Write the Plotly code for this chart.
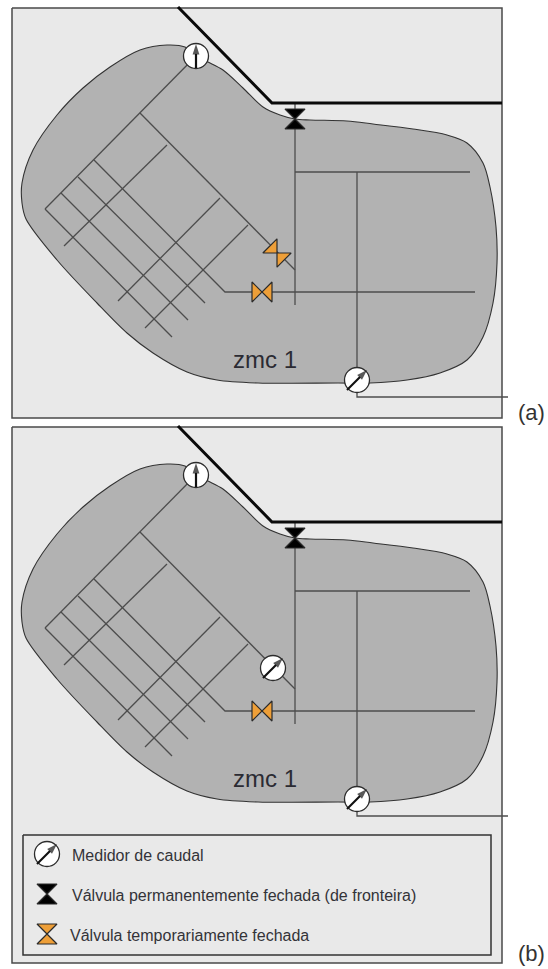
import plotly.graph_objects as go

# All geometry is expressed in the diagram's own coordinate system (origin top-left).
PANEL_B_SHIFT = 419
FRAME_X = [12, 502, 502, 12, 12]
FRAME_A_Y = [8, 8, 418, 418, 8]
FRAME_B_Y = [427, 427, 963, 963, 427]
LEGEND_BOX_X = [23, 491, 491, 23, 23]
LEGEND_BOX_Y = [835, 835, 955, 955, 835]

ROAD_X = [178, 272, 502]
ROAD_Y = [7, 103, 103]

ZONE_X = [196, 185, 167, 140, 110, 83, 57, 33, 22, 22, 26, 57, 97, 127, 153, 187, 217, 258, 338, 370, 407,
          440, 467, 483, 493, 497, 496, 490, 483, 467, 447, 413, 373, 347, 310, 295, 280, 263, 243, 223, 208, 196]
ZONE_Y = [56, 47, 45, 50, 67, 88, 115, 150, 183, 203, 219, 260, 303, 333, 353, 372, 380, 383, 383, 383, 380,
          373, 360, 337, 303, 263, 227, 187, 163, 143, 135, 129, 124, 121, 120, 119, 115, 107, 88, 70, 62, 56]

PIPES = [
    ([196, 140, 45], [56, 113, 209]),
    ([140, 295], [113, 270]),
    ([45, 172], [209, 337]),
    ([61, 188], [193, 320]),
    ([78, 205], [177, 303]),
    ([94, 225, 475], [160, 292, 292]),
    ([64, 167], [246, 145]),
    ([118, 220], [301, 198]),
    ([145, 248], [328, 225]),
    ([295, 295], [103, 305]),
    ([295, 470], [172, 172]),
    ([357, 357, 508], [172, 397, 397]),
]

METERS_X = [196, 357]
METERS_Y = [56, 380]
METER_ARROWS = [([196, 196], [68, 44]), ([347, 367], [390, 370])]
METER_B_X = [273]
METER_B_Y = [249]
METER_B_ARROW = ([263, 283], [259, 239])
LEGEND_METER = (47, 854)
LEGEND_ARROW = ([37, 57], [864, 844])

BOUNDARY_VALVE = (295, 119)
ORANGE_A = [(262, 292, 0), (277, 253, 45)]
ORANGE_B = [(262, 292, 0)]

LEGEND_TEXTS = ["Medidor de caudal", "Válvula permanentemente fechada (de fronteira)", "Válvula temporariamente fechada"]
LEGEND_TEXT_X = [70, 70, 68]
LEGEND_TEXT_Y = [855, 895, 935]
PANEL_LABELS = ["(a)", "(b)"]

FRAME_BG, ZONE_BG, PIPE, DARK, ORANGE = "#e9e9e9", "#b2b2b2", "#4d4d4d", "#3c3c3c", "#ee9f38"
FONT = "Liberation Sans"

fig = go.Figure()


def poly(x, y, fill=None, color=DARK, width=1.5, shape="linear"):
    fig.add_trace(go.Scatter(x=x, y=y, mode="lines", hoverinfo="skip", showlegend=False,
                             fill="toself" if fill else "none", fillcolor=fill,
                             line=dict(color=color, width=width, shape=shape, smoothing=0.9 if shape == "spline" else None)))


def meter(cx, cy, arrow):
    fig.add_trace(go.Scatter(x=[cx], y=[cy], mode="markers", hoverinfo="skip", showlegend=False,
                             marker=dict(symbol="circle", size=25, color="white", line=dict(color="#2c2c2c", width=1.3))))
    fig.add_trace(go.Scatter(x=arrow[0], y=arrow[1], mode="lines+markers", hoverinfo="skip", showlegend=False,
                             line=dict(color="#111", width=2.2),
                             marker=dict(symbol="arrow", size=[0, 11], color="#111", angleref="previous", line=dict(width=0))))


def valve(cx, cy, symbol, color, angle=0, size=20):
    fig.add_trace(go.Scatter(x=[cx], y=[cy], mode="markers", hoverinfo="skip", showlegend=False,
                             marker=dict(symbol=symbol, size=size, color=color, angle=angle,
                                         line=dict(color="#2a2a2a", width=1.2))))


def panel(shift, frame_y, orange, extra_meter):
    sy = lambda ys: [v + shift for v in ys]
    poly(FRAME_X, frame_y, fill=FRAME_BG, color="#4a4a4a", width=1.5)
    poly(ZONE_X, sy(ZONE_Y), fill=ZONE_BG, color="#333333", width=1.1, shape="spline")
    for px, py in PIPES:
        poly(px, sy(py), color=PIPE, width=1.3)
    poly(ROAD_X, sy(ROAD_Y), color="#0a0a0a", width=3)
    valve(BOUNDARY_VALVE[0], BOUNDARY_VALVE[1] + shift, "hourglass", "#000000")
    for cx, cy, ang in orange:
        valve(cx, cy + shift, "bowtie", ORANGE, ang)
    for cx, cy, arrow in zip(METERS_X, METERS_Y, METER_ARROWS):
        meter(cx, cy + shift, (arrow[0], sy(arrow[1])))
    if extra_meter:
        meter(METER_B_X[0], METER_B_Y[0] + shift, (METER_B_ARROW[0], sy(METER_B_ARROW[1])))
    fig.add_annotation(x=265, y=359 + shift, text="zmc 1", showarrow=False,
                       font=dict(family=FONT, size=24, color="#2b2b33"))


panel(0, FRAME_A_Y, ORANGE_A, False)
panel(PANEL_B_SHIFT, FRAME_B_Y, ORANGE_B, True)

poly(LEGEND_BOX_X, LEGEND_BOX_Y, fill=FRAME_BG, color="#333333", width=1.5)
meter(LEGEND_METER[0], LEGEND_METER[1], LEGEND_ARROW)
valve(47, 894, "hourglass", "#000000")
valve(47, 934, "hourglass", ORANGE)
for t, x, y in zip(LEGEND_TEXTS, LEGEND_TEXT_X, LEGEND_TEXT_Y):
    fig.add_annotation(x=x, y=y, text=t, showarrow=False, xanchor="left",
                       font=dict(family=FONT, size=16, color="#333338"))

for label, y in zip(PANEL_LABELS, [412, 953]):
    fig.add_annotation(x=531, y=y, text=label, showarrow=False, font=dict(family=FONT, size=22, color="#333333"))

fig.update_xaxes(range=[0, 548], visible=False, fixedrange=True)
fig.update_yaxes(range=[969, 0], visible=False, fixedrange=True)
fig.update_layout(width=548, height=969, margin=dict(l=0, r=0, t=0, b=0),
                  paper_bgcolor="white", plot_bgcolor="white", showlegend=False)
fig.write_html("out.html", config={"displayModeBar": False},
               post_script="document.body.style.margin='0';document.body.style.overflow='hidden';")
